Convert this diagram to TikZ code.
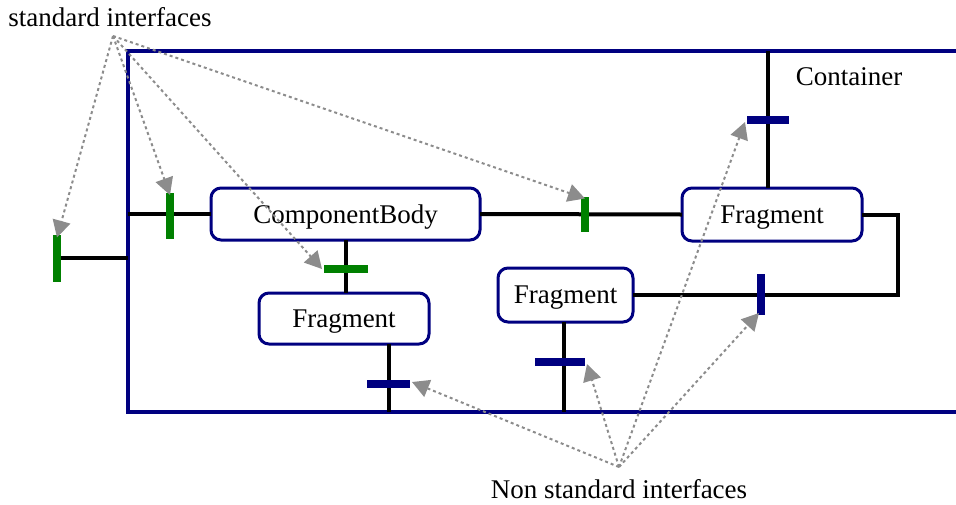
\documentclass[tikz,border=0pt]{standalone}
\usepackage{fontspec}
\setmainfont{Liberation Serif}
\usetikzlibrary{arrows.meta}
\definecolor{navy}{RGB}{0,0,128}
\definecolor{ifgreen}{RGB}{0,128,0}
\definecolor{ptrgray}{RGB}{140,140,140}
\begin{document}
\begin{tikzpicture}[x=1pt,y=-1pt,
  every node/.style={inner sep=0pt, outer sep=0pt},
  lbl/.style={font=\fontsize{27}{30}\selectfont},
  frag/.style={draw=navy, line width=3pt, rounded corners=10pt, fill=white,
    font=\fontsize{27}{30}\selectfont, text depth=0pt},
  conn/.style={draw=black, line width=4pt},
  wall/.style={draw=navy, line width=4pt},
  gbarv/.style={fill=ifgreen, minimum width=8pt},
  gbarh/.style={fill=ifgreen, minimum height=8pt},
  nbarv/.style={fill=navy, minimum width=8pt},
  nbarh/.style={fill=navy, minimum height=8pt},
  ptr/.style={draw=ptrgray, line width=2pt, dash pattern=on 3pt off 3pt,
    -{Triangle[length=17pt,width=18pt]}}
]
\useasboundingbox (0,0) rectangle (956,504);

% container walls
\coordinate (ctl) at (127.5,51);
\coordinate (cbl) at (127.5,412);
\coordinate (ctr) at (956,51);
\coordinate (cbr) at (956,412);
\draw[wall] (ctr) -- (ctl) -- (cbl) -- (cbr);
\node[lbl] (cont) at (849,77) {Container};

% boxes
\node[frag, minimum width=269pt, minimum height=52pt] (CB) at (345.5,214) {ComponentBody};
\node[frag, minimum width=170pt, minimum height=51pt] (F1) at (344,318.5) {Fragment};
\node[frag, minimum width=135pt, minimum height=54pt] (F2) at (565.5,295) {Fragment};
\node[frag, minimum width=180pt, minimum height=53pt] (F3) at (772,214.5) {Fragment};

% interface bar positions
\coordinate (g2) at (170,216);
\coordinate (g3) at (346,269);
\coordinate (g4) at (585,214);
\coordinate (n1) at (388.5,384);
\coordinate (n2) at (560,362);
\coordinate (n3) at (768,120);
\coordinate (n4) at (761,294.5);
\coordinate (f2b) at (564,322);
\coordinate (rc1) at (898,214.5);

% connectors
\node[gbarv, minimum height=47pt] (p1) at (57,258) {};
\draw[conn] (p1.east) -- (p1.east -| ctl);
\draw[conn] (CB.west -| ctl) -- (CB.west);
\draw[conn] (CB.east) -- (F3.west);
\draw[conn] (CB.south -| g3) -- (F1.north -| g3);
\draw[conn] (F1.south -| n1) -- (n1 |- cbl);
\draw[conn] (f2b) -- (f2b |- cbl);
\draw[conn] (F3.north -| n3) -- (n3 |- ctl);
\draw[conn] (F3.east) -- (rc1) -- (rc1 |- F2.east) -- (F2.east);

% interface bars on top of lines
\node[gbarv, minimum height=46pt] (G2) at (g2) {};
\node[gbarh, minimum width=44pt] (G3) at (g3) {};
\node[gbarv, minimum height=35pt] (G4) at (g4) {};
\node[nbarh, minimum width=43pt] (N1) at (n1) {};
\node[nbarh, minimum width=50pt] (N2) at (n2) {};
\node[nbarh, minimum width=42pt] (N3) at (n3) {};
\node[nbarv, minimum height=41pt] (N4) at (n4) {};

% labels and pointers
\node[lbl] (std) at (110,17) {standard interfaces};
\node[lbl] (nstd) at (619,489) {Non standard interfaces};
\coordinate (s1) at (113,36);
\coordinate (s2) at (619,467);
\draw[ptr] (s1) -- ([yshift=-3pt]p1.north);
\draw[ptr] (s1) -- ([yshift=-2pt]G2.north);
\draw[ptr] (s1) -- ([xshift=-2pt]G3.west);
\draw[ptr] (s1) -- ([yshift=-2pt]G4.north);
\draw[ptr] (s2) -- ([xshift=2pt,yshift=2pt]N1.east);
\draw[ptr] (s2) -- ([xshift=2pt,yshift=2pt]N2.south east);
\draw[ptr] (s2) -- ([xshift=-2pt,yshift=2pt]N4.south);
\draw[ptr] (s2) -- ([xshift=-2pt,yshift=2pt]N3.south west);
\end{tikzpicture}
\end{document}
